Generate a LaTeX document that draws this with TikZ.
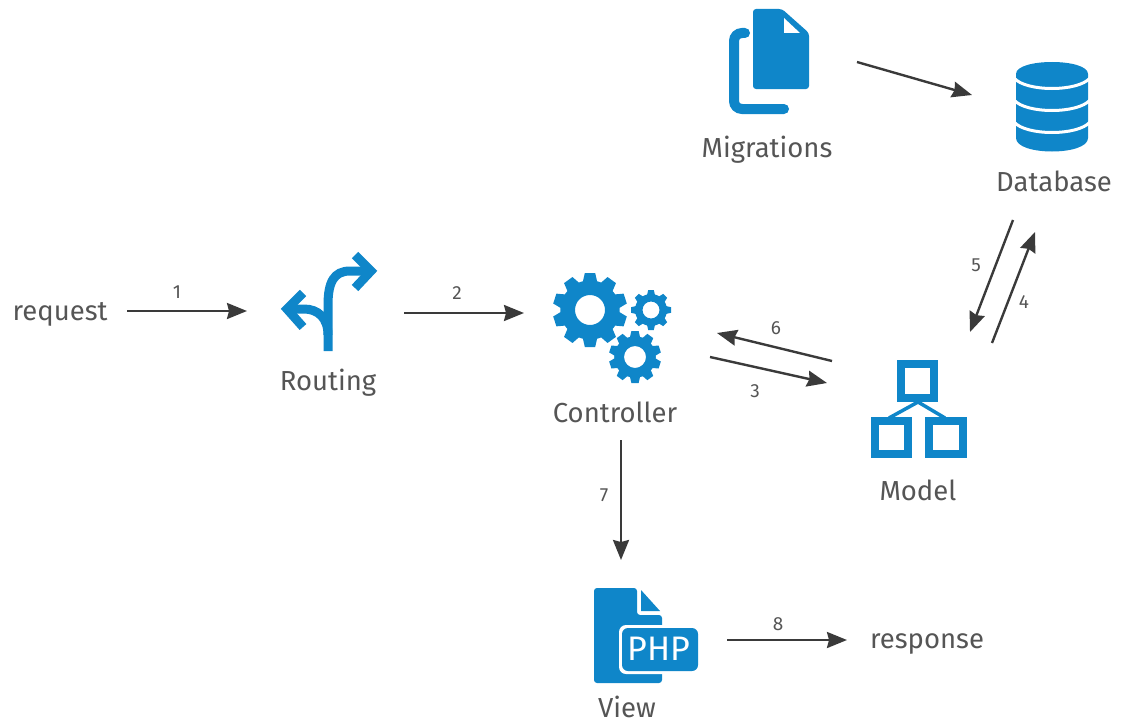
\documentclass[tikz,border=0pt]{standalone}
\usepackage{fontspec}
\setmainfont{Fira Sans}
\usetikzlibrary{arrows.meta,calc}
\definecolor{iconblue}{HTML}{0F86C9}
\definecolor{labelgray}{HTML}{555555}
\definecolor{arrowgray}{HTML}{3A3A3A}
\tikzset{
  anchorpt/.style={inner sep=0pt,minimum size=0pt},
  caption/.style={text=labelgray,inner sep=0pt,anchor=base,font=\fontsize{27.5}{30}\selectfont},
  stepnum/.style={text=labelgray,inner sep=0pt,font=\fontsize{19}{21}\selectfont},
  flow/.style={draw=arrowgray,line width=2.4pt,-{Stealth[length=20pt,width=16pt,inset=2pt]}},
  iconline/.style={draw=iconblue,line width=9pt}
}
% one cog: centre, outer radius, hole radius, number of teeth
\newcommand{\cogicon}[4]{
  \begin{scope}[shift={(#1)}]
    \fill[iconblue,even odd rule] (0,0) circle ({0.8*#2}) circle (#3);
    \pgfmathsetmacro{\dstep}{360/#4}
    \foreach \k in {1,...,#4} {
      \fill[iconblue,rotate=\k*\dstep] ({-0.2*#2},{-0.74*#2}) -- ({-0.14*#2},-#2) -- ({0.14*#2},-#2) -- ({0.2*#2},{-0.74*#2}) -- cycle;
    }
  \end{scope}
}
\begin{document}
\begin{tikzpicture}[x=1pt,y=-1pt]
\useasboundingbox (0,0) rectangle (1121,725);

% icon positions
\node[anchorpt] (routing) at (328,301) {};
\node[anchorpt] (controller) at (612,328) {};
\node[anchorpt] (migrations) at (768,62) {};
\node[anchorpt] (database) at (1052,107) {};
\node[anchorpt] (model) at (918,408) {};
\node[anchorpt] (view) at (645,635) {};

% routing
\draw[iconline,line cap=butt] (328,351) -- (328,305) .. controls (328,282) and (334,271) .. (350,271) -- (368,271);
\draw[iconline,line cap=butt] (328,335) .. controls (328,318) and (318,309) .. (304,309) -- (290,309);
\draw[iconline,line join=miter,line cap=butt] (355,255) -- (371,271) -- (355,288);
\draw[iconline,line join=miter,line cap=butt] (303,293) -- (287,309) -- (303,327);

% controller
\cogicon{590,310}{37}{15}{10}
\cogicon{651,310}{20}{8.5}{8}
\cogicon{635,357}{26}{11}{10}

% migrations
\fill[iconblue,rounded corners=3pt] (753,9) -- (782,9) -- (809,33) -- (809,89) -- (753,89) -- cycle;
\fill[white] (784,18) -- (784,33) -- (800,33) -- cycle;
\draw[draw=iconblue,line width=10pt,line cap=round,rounded corners=8pt] (745,33) -- (734,33) -- (734,109) -- (784,109);

% database
\fill[iconblue] (1016,74) .. controls (1016,58) and (1088,58) .. (1088,74) -- (1088,138) .. controls (1088,156) and (1016,156) .. (1016,138) -- cycle;
\foreach \h in {78,100,122} {
  \draw[white,line width=3pt] (1014,\h) .. controls (1026,{\h+14}) and (1078,{\h+14}) .. (1090,\h);
}

% model
\draw[iconblue,line width=8pt] (901,364) rectangle (934,398);
\draw[iconblue,line width=8pt] (875,421) rectangle (908,454);
\draw[iconblue,line width=8pt] (929,421) rectangle (963,454);
\draw[iconblue,line width=3.5pt] (918,402) -- (889,418);
\draw[iconblue,line width=3.5pt] (918,402) -- (945,418);

% view
\fill[iconblue,rounded corners=3pt] (594,588) -- (637,588) -- (637,615) -- (662,615) -- (662,683) -- (594,683) -- cycle;
\fill[iconblue] (641,590) -- (641,611) -- (660,611) -- cycle;
\fill[white,rounded corners=7pt] (619,625) rectangle (700,674);
\fill[iconblue,rounded corners=6pt] (622,628) rectangle (698,671);
\node[anchorpt,text=white,font=\fontsize{34}{36}\selectfont] (phpmark) at (659,649) {PHP};

% labels
\node[caption] (request) at (60,320) {request};
\node[caption] (routinglabel) at (328,390) {Routing};
\node[caption] (controllerlabel) at (615,422) {Controller};
\node[caption] (migrationslabel) at (767,157) {Migrations};
\node[caption] (databaselabel) at (1054,191) {Database};
\node[caption] (modellabel) at (918,500) {Model};
\node[caption] (viewlabel) at (627,717) {View};
\node[caption] (response) at (927,648) {response};

% connectors
\draw[flow] ($(request.base)+(67,-9)$) -- ($(routing)+(-81,10)$);
\draw[flow] ($(routing)+(76,12)$) -- ($(controller)+(-88,-15)$);
\draw[flow] ($(migrations)+(89,0)$) -- ($(database)+(-80,-12)$);
\draw[flow] ($(database)+(-39,113)$) -- ($(model)+(52,-76)$);
\draw[flow] ($(model)+(74,-65)$) -- ($(database)+(-17,125)$);
\draw[flow] ($(model)+(-86,-47)$) -- ($(controller)+(105,5)$);
\draw[flow] ($(controller)+(98,29)$) -- ($(model)+(-91,-25)$);
\draw[flow] ($(controllerlabel.base)+(6,18)$) -- ($(view)+(-24,-75)$);
\draw[flow] ($(view)+(82,5)$) -- ($(response.base)+(-80,-8)$);

% step numbers
\node[stepnum] (n1) at (177,292) {1};
\node[stepnum] (n2) at (457,293) {2};
\node[stepnum] (n3) at (755,391) {3};
\node[stepnum] (n4) at (1024,302) {4};
\node[stepnum] (n5) at (976,265) {5};
\node[stepnum] (n6) at (776,328) {6};
\node[stepnum] (n7) at (604,495) {7};
\node[stepnum] (n8) at (778,624) {8};
\end{tikzpicture}
\end{document}
